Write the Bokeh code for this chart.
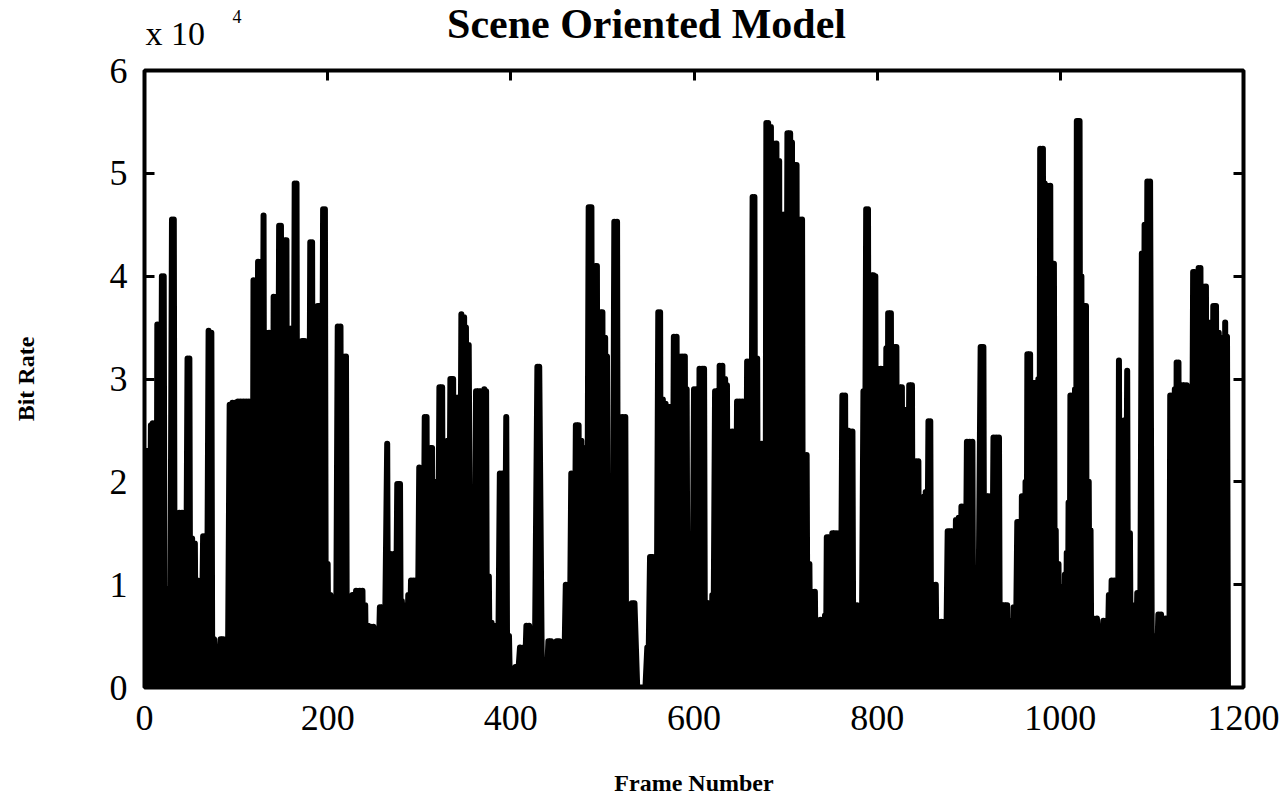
from bokeh.plotting import figure
from bokeh.models import LinearAxis, FixedTicker, Range1d
from bokeh.layouts import column
from bokeh.core.properties import value
from bokeh.embed import file_html
from bokeh.resources import INLINE

# ---------------- data (bit rate in units of 10^4) ----------------
X_TICKS = [0, 200, 400, 600, 800, 1000, 1200]
Y_TICKS = [0, 1, 2, 3, 4, 5, 6]
FLOOR_RATE = 0.0

# frames 0-300
PEAK_FRAMES_1 = [0, 3, 7, 9, 12, 14, 16, 19, 21, 24, 27, 30, 32, 35, 38, 41, 44, 47, 49, 52,
                 55, 58, 61, 64, 67, 70, 73, 76, 80, 83, 86, 89, 93, 96, 99, 102, 105, 108, 111, 114,
                 117, 119, 121, 124, 127, 130, 133, 136, 139, 141, 144, 147, 149, 152, 155, 158, 161, 164, 166, 169,
                 172, 175, 178, 181, 183, 186, 189, 192, 195, 197, 200, 203, 207, 211, 214, 217, 220, 223, 227, 231,
                 235, 238, 241, 244, 247, 250, 254, 257, 260, 265, 268, 270, 273, 276, 279, 281, 285, 288, 291, 294,
                 297]
PEAK_RATES_1 = [2.30, 2.30, 2.55, 2.57, 0.96, 3.53, 3.50, 4.00, 4.00, 0.96, 0.96, 4.55, 4.55, 1.24, 1.70, 1.70, 1.65, 3.20, 3.20, 1.45,
                1.40, 1.04, 1.00, 1.47, 1.45, 3.47, 3.45, 0.47, 0.30, 0.47, 0.47, 0.45, 2.75, 2.77, 2.77, 2.78, 2.78, 2.78, 2.78, 2.78,
                2.78, 3.96, 3.96, 4.14, 4.14, 4.59, 3.45, 3.45, 3.45, 3.80, 3.80, 4.49, 4.49, 4.35, 4.35, 3.49, 3.49, 4.90, 4.90, 0.50,
                3.37, 3.37, 3.30, 4.33, 4.33, 3.33, 3.71, 3.71, 4.65, 4.65, 1.20, 0.90, 0.80, 3.51, 3.51, 3.22, 3.22, 0.84, 0.90, 0.94,
                0.94, 0.94, 0.80, 0.60, 0.59, 0.59, 0.51, 0.78, 0.78, 2.37, 1.30, 1.27, 1.30, 1.98, 1.98, 0.84, 0.80, 0.90, 1.04, 1.04,
                1.04]
BASE_FRAMES_1 = [1, 5, 8, 10, 13, 15, 17, 20, 22, 25, 28, 31, 33, 36, 39, 42, 45, 48, 50, 53,
                 56, 59, 62, 65, 68, 71, 74, 78, 81, 84, 87, 91, 94, 97, 100, 103, 106, 109, 112, 115,
                 118, 120, 122, 125, 128, 131, 134, 137, 140, 142, 145, 148, 150, 153, 156, 159, 162, 165, 167, 170,
                 173, 176, 179, 182, 184, 187, 190, 193, 196, 198, 201, 205, 209, 212, 215, 218, 221, 225, 229, 233,
                 236, 239, 242, 245, 248, 252, 255, 258, 262, 266, 269, 271, 274, 277, 280, 283, 286, 289, 292, 295,
                 298]

# frames 300-600
PEAK_FRAMES_2 = [300, 303, 306, 308, 311, 314, 317, 319, 322, 325, 328, 331, 334, 337, 340, 343, 346, 349, 351, 354,
                 358, 362, 365, 368, 371, 373, 376, 379, 382, 385, 388, 391, 395, 398, 401, 405, 410, 414, 417, 420,
                 424, 429, 431, 437, 441, 444, 447, 450, 453, 457, 460, 463, 466, 468, 471, 474, 477, 479, 481, 485,
                 488, 491, 494, 497, 500, 503, 505, 507, 510, 513, 516, 519, 522, 525, 528, 532, 535, 549, 552, 555,
                 558, 561, 563, 566, 569, 572, 575, 578, 581, 584, 587, 590, 592, 594, 597]
PEAK_RATES_2 = [2.14, 1.96, 2.63, 2.63, 2.33, 2.33, 2.00, 2.00, 2.92, 2.92, 2.35, 2.40, 3.00, 3.00, 2.82, 2.82, 3.63, 3.60, 3.50, 3.33,
                1.08, 2.88, 2.88, 2.88, 2.90, 2.88, 1.08, 0.63, 0.60, 0.59, 2.08, 2.08, 2.63, 0.50, 0.12, 0.20, 0.39, 0.39, 0.60, 0.60,
                0.50, 3.12, 3.12, 0.20, 0.45, 0.45, 0.42, 0.45, 0.45, 0.40, 1.00, 1.00, 2.08, 2.08, 2.55, 2.55, 2.40, 2.33, 1.37, 4.67,
                4.67, 4.10, 4.10, 3.65, 3.65, 3.40, 3.22, 0.71, 0.90, 4.53, 4.53, 2.63, 2.63, 2.63, 0.70, 0.82, 0.82, 0.39, 1.27, 1.27,
                1.27, 3.65, 3.65, 2.80, 2.76, 2.73, 2.73, 3.41, 3.41, 3.22, 3.22, 3.22, 2.90, 1.37, 1.30]
BASE_FRAMES_2 = [301, 304, 307, 309, 312, 315, 318, 320, 323, 326, 329, 332, 335, 338, 341, 344, 347, 350, 352, 356,
                 360, 363, 366, 369, 372, 374, 377, 380, 383, 386, 389, 393, 396, 399, 403, 407, 412, 415, 418, 422,
                 426, 430, 434, 439, 442, 445, 448, 451, 455, 458, 461, 464, 467, 469, 472, 475, 478, 480, 483, 486,
                 489, 492, 495, 498, 501, 504, 506, 508, 511, 514, 517, 520, 523, 526, 530, 533, 538, 547, 550, 553,
                 556, 559, 562, 564, 567, 570, 573, 576, 579, 582, 585, 588, 591, 593, 595, 598]

# frames 600-900
PEAK_FRAMES_3 = [600, 602, 604, 606, 609, 611, 614, 617, 620, 623, 626, 628, 631, 634, 636, 639, 642, 644, 647, 650,
                 653, 655, 658, 661, 664, 666, 669, 671, 674, 677, 679, 681, 684, 687, 690, 693, 696, 699, 702, 705,
                 707, 709, 712, 715, 718, 720, 723, 726, 729, 732, 735, 738, 741, 743, 745, 748, 751, 754, 756, 758,
                 762, 765, 768, 771, 773, 775, 778, 780, 782, 785, 788, 790, 793, 796, 798, 801, 804, 807, 810, 812,
                 815, 818, 821, 824, 827, 829, 832, 835, 838, 840, 843, 845, 848, 851, 853, 856, 858, 861, 864, 867,
                 870, 873, 877, 880, 883, 886, 889, 892, 895, 898]
PEAK_RATES_3 = [2.90, 2.90, 2.90, 3.10, 3.10, 3.10, 0.82, 0.82, 0.90, 2.88, 2.88, 3.13, 3.13, 3.00, 2.94, 2.49, 2.49, 1.00, 2.78, 2.78,
                2.78, 2.75, 3.17, 3.17, 4.77, 4.77, 3.20, 2.37, 2.37, 2.20, 5.49, 5.49, 5.45, 5.29, 5.29, 5.12, 4.60, 4.60, 5.39, 5.39,
                5.30, 5.08, 5.08, 4.55, 4.55, 2.26, 2.26, 1.20, 0.93, 0.93, 0.58, 0.66, 0.66, 0.70, 1.46, 1.46, 1.50, 1.50, 1.50, 1.23,
                2.84, 2.84, 2.50, 2.49, 2.49, 0.80, 0.80, 0.64, 0.70, 2.88, 4.65, 4.65, 4.01, 4.01, 4.00, 3.10, 3.10, 3.10, 3.30, 3.64,
                3.64, 3.31, 3.31, 2.92, 2.92, 2.70, 2.70, 2.94, 2.94, 2.20, 2.20, 2.20, 1.85, 1.85, 1.90, 2.59, 2.59, 1.00, 1.00, 0.64,
                0.64, 0.64, 1.52, 1.52, 1.52, 1.63, 1.65, 1.76, 1.76, 2.39]
BASE_FRAMES_3 = [601, 603, 605, 608, 610, 612, 615, 618, 621, 624, 627, 629, 632, 635, 637, 640, 643, 645, 648, 651,
                 654, 656, 659, 662, 665, 667, 670, 672, 675, 678, 680, 682, 685, 688, 691, 694, 697, 700, 703, 706,
                 708, 710, 713, 716, 719, 721, 724, 727, 730, 733, 736, 739, 742, 744, 746, 749, 752, 755, 757, 760,
                 763, 766, 769, 772, 774, 776, 779, 781, 783, 786, 789, 791, 794, 797, 799, 802, 805, 808, 811, 813,
                 816, 819, 822, 825, 828, 830, 833, 836, 839, 841, 844, 846, 849, 852, 854, 857, 859, 862, 865, 868,
                 871, 875, 878, 881, 884, 887, 890, 893, 896, 899]

# frames 900-1200
PEAK_FRAMES_4 = [901, 904, 909, 913, 916, 919, 922, 924, 927, 930, 933, 936, 939, 942, 945, 947, 949, 953, 956, 958,
                 960, 962, 964, 967, 969, 971, 974, 976, 978, 981, 983, 986, 989, 991, 993, 995, 998, 1000, 1003, 1005,
                 1007, 1009, 1011, 1014, 1016, 1018, 1021, 1023, 1025, 1028, 1031, 1033, 1036, 1040, 1047, 1050, 1053, 1056, 1059, 1062,
                 1064, 1067, 1070, 1073, 1076, 1078, 1081, 1084, 1086, 1089, 1092, 1095, 1098, 1104, 1107, 1110, 1113, 1115, 1118, 1120,
                 1123, 1125, 1127, 1129, 1131, 1133, 1136, 1138, 1140, 1142, 1145, 1148, 1151, 1153, 1156, 1159, 1162, 1164, 1167, 1170,
                 1173, 1176, 1178, 1180, 1182]
PEAK_RATES_4 = [2.39, 2.39, 0.47, 3.31, 3.31, 1.86, 1.86, 1.86, 2.43, 2.43, 2.43, 0.80, 0.80, 0.80, 0.65, 0.65, 0.78, 1.61, 1.61, 1.86,
                1.86, 2.00, 3.24, 3.24, 2.22, 2.96, 2.96, 3.00, 5.24, 5.24, 4.90, 4.88, 4.88, 4.12, 4.12, 1.53, 1.20, 0.98, 0.98, 1.10,
                1.31, 1.80, 2.84, 2.84, 2.90, 5.51, 5.51, 4.00, 3.71, 3.71, 2.00, 1.53, 0.67, 0.67, 0.65, 0.65, 0.90, 1.04, 1.04, 1.04,
                3.18, 2.53, 2.60, 3.08, 1.50, 0.63, 0.80, 0.92, 0.92, 4.22, 4.50, 4.92, 4.92, 0.50, 0.71, 0.71, 0.60, 0.67, 0.67, 2.84,
                2.84, 2.90, 3.16, 3.16, 2.61, 2.94, 2.94, 2.94, 2.00, 1.67, 4.04, 4.04, 4.08, 4.08, 3.90, 3.90, 3.55, 2.49, 3.71, 3.71,
                3.45, 3.33, 3.40, 3.55, 3.41]
BASE_FRAMES_4 = [900, 902, 905, 910, 914, 917, 920, 923, 925, 928, 931, 934, 937, 940, 943, 946, 948, 951, 954, 957,
                 959, 961, 963, 965, 968, 970, 972, 975, 977, 979, 982, 984, 987, 990, 992, 994, 996, 999, 1001, 1004,
                 1006, 1008, 1010, 1012, 1015, 1017, 1019, 1022, 1024, 1026, 1029, 1032, 1034, 1038, 1044, 1048, 1051, 1054, 1057, 1060,
                 1063, 1065, 1068, 1071, 1074, 1077, 1079, 1082, 1085, 1087, 1090, 1093, 1096, 1100, 1105, 1108, 1111, 1114, 1116, 1119,
                 1121, 1124, 1126, 1128, 1130, 1132, 1134, 1137, 1139, 1141, 1143, 1146, 1149, 1152, 1154, 1157, 1160, 1163, 1165, 1168,
                 1171, 1174, 1177, 1179, 1181, 1183]

TITLE = "Scene Oriented Model"
X_LABEL = "Frame Number"
Y_LABEL = "Bit Rate"
MULTIPLIER = "x 10"
EXPONENT = "4"

# ---------------- build trace ----------------
trace = {}
for pf, pr, bf in [(PEAK_FRAMES_1, PEAK_RATES_1, BASE_FRAMES_1),
                   (PEAK_FRAMES_2, PEAK_RATES_2, BASE_FRAMES_2),
                   (PEAK_FRAMES_3, PEAK_RATES_3, BASE_FRAMES_3),
                   (PEAK_FRAMES_4, PEAK_RATES_4, BASE_FRAMES_4)]:
    assert len(pf) == len(pr), (len(pf), len(pr))
    for f, r in zip(pf, pr):
        trace[f] = r
    for f in bf:
        trace[f] = FLOOR_RATE
frames = sorted(trace)
rates = [trace[f] for f in frames]

SERIF = "Liberation Serif"
W = 1286
H_TOTAL = 804
HEADER_H = 52
LEFT, RIGHT = 144, 43          # frame borders, shared by both strips
FRAME_TOP = 70
FRAME_BOTTOM_BORDER = 117

# ---------------- header strip (title + axis multiplier) ----------------
header = figure(width=W, height=HEADER_H,
                x_range=Range1d(LEFT, W - RIGHT), y_range=Range1d(HEADER_H, 0),
                output_backend="svg", toolbar_location=None,
                min_border_left=LEFT, min_border_right=RIGHT, min_border_top=0, min_border_bottom=0,
                x_axis_location=None, y_axis_location=None)
header.grid.visible = False
header.outline_line_color = None
header.background_fill_color = "white"
header.border_fill_color = "white"
header.text(x=[646], y=[23], text=[TITLE], text_font=value(SERIF), text_font_style="bold",
            text_font_size="42px", text_color="black", text_align="center", text_baseline="alphabetic")
header.text(x=[145], y=[33], text=[MULTIPLIER], text_font=value(SERIF),
            text_font_size="34px", text_color="black", text_align="left", text_baseline="alphabetic")
header.text(x=[232], y=[16], text=[EXPONENT], text_font=value(SERIF),
            text_font_size="18px", text_color="black", text_align="left", text_baseline="alphabetic")

# ---------------- main plot ----------------
p = figure(width=W, height=H_TOTAL - HEADER_H,
           x_range=Range1d(0, 1200), y_range=Range1d(0, 6),
           output_backend="svg", toolbar_location=None,
           min_border_left=LEFT, min_border_right=RIGHT,
           min_border_top=FRAME_TOP - HEADER_H, min_border_bottom=FRAME_BOTTOM_BORDER)
p.background_fill_color = "white"
p.border_fill_color = "white"
p.grid.visible = False
p.outline_line_color = "black"
p.outline_line_width = 4

p.line(frames, rates, line_color="black", line_width=6, line_join="round", line_cap="round")

# bottom axis
xa = p.xaxis[0]
xa.ticker = FixedTicker(ticks=X_TICKS)
xa.major_tick_in = 10
xa.major_tick_out = 0
xa.minor_tick_line_color = None
xa.axis_line_color = None
xa.major_tick_line_width = 3
xa.major_label_text_font = SERIF
xa.major_label_text_font_size = "36px"
xa.major_label_text_color = "black"
xa.major_label_standoff = 18
xa.axis_label = X_LABEL
xa.axis_label_text_font = SERIF
xa.axis_label_text_font_style = "bold"
xa.axis_label_text_font_size = "24px"
xa.axis_label_text_color = "black"
xa.axis_label_standoff = 37

# left axis
ya = p.yaxis[0]
ya.ticker = FixedTicker(ticks=Y_TICKS)
ya.major_tick_in = 10
ya.major_tick_out = 0
ya.minor_tick_line_color = None
ya.axis_line_color = None
ya.major_tick_line_width = 3
ya.major_label_text_font = SERIF
ya.major_label_text_font_size = "36px"
ya.major_label_text_color = "black"
ya.major_label_standoff = 17
ya.axis_label = Y_LABEL
ya.axis_label_text_font = SERIF
ya.axis_label_text_font_style = "bold"
ya.axis_label_text_font_size = "24px"
ya.axis_label_text_color = "black"
ya.axis_label_standoff = 68

# box ticks on top and right
top_ax = LinearAxis(ticker=FixedTicker(ticks=X_TICKS), major_tick_in=10, major_tick_out=0,
                    minor_tick_line_color=None, axis_line_color=None, major_tick_line_width=3,
                    major_label_text_color=None, major_label_text_font_size="0px",
                    major_label_standoff=0)
p.add_layout(top_ax, "above")
right_ax = LinearAxis(ticker=FixedTicker(ticks=Y_TICKS), major_tick_in=10, major_tick_out=0,
                      minor_tick_line_color=None, axis_line_color=None, major_tick_line_width=3,
                      major_label_text_color=None, major_label_text_font_size="0px",
                      major_label_standoff=0)
p.add_layout(right_ax, "right")

layout = column(header, p, spacing=0)
open("out.html", "w").write(file_html(layout, INLINE))
